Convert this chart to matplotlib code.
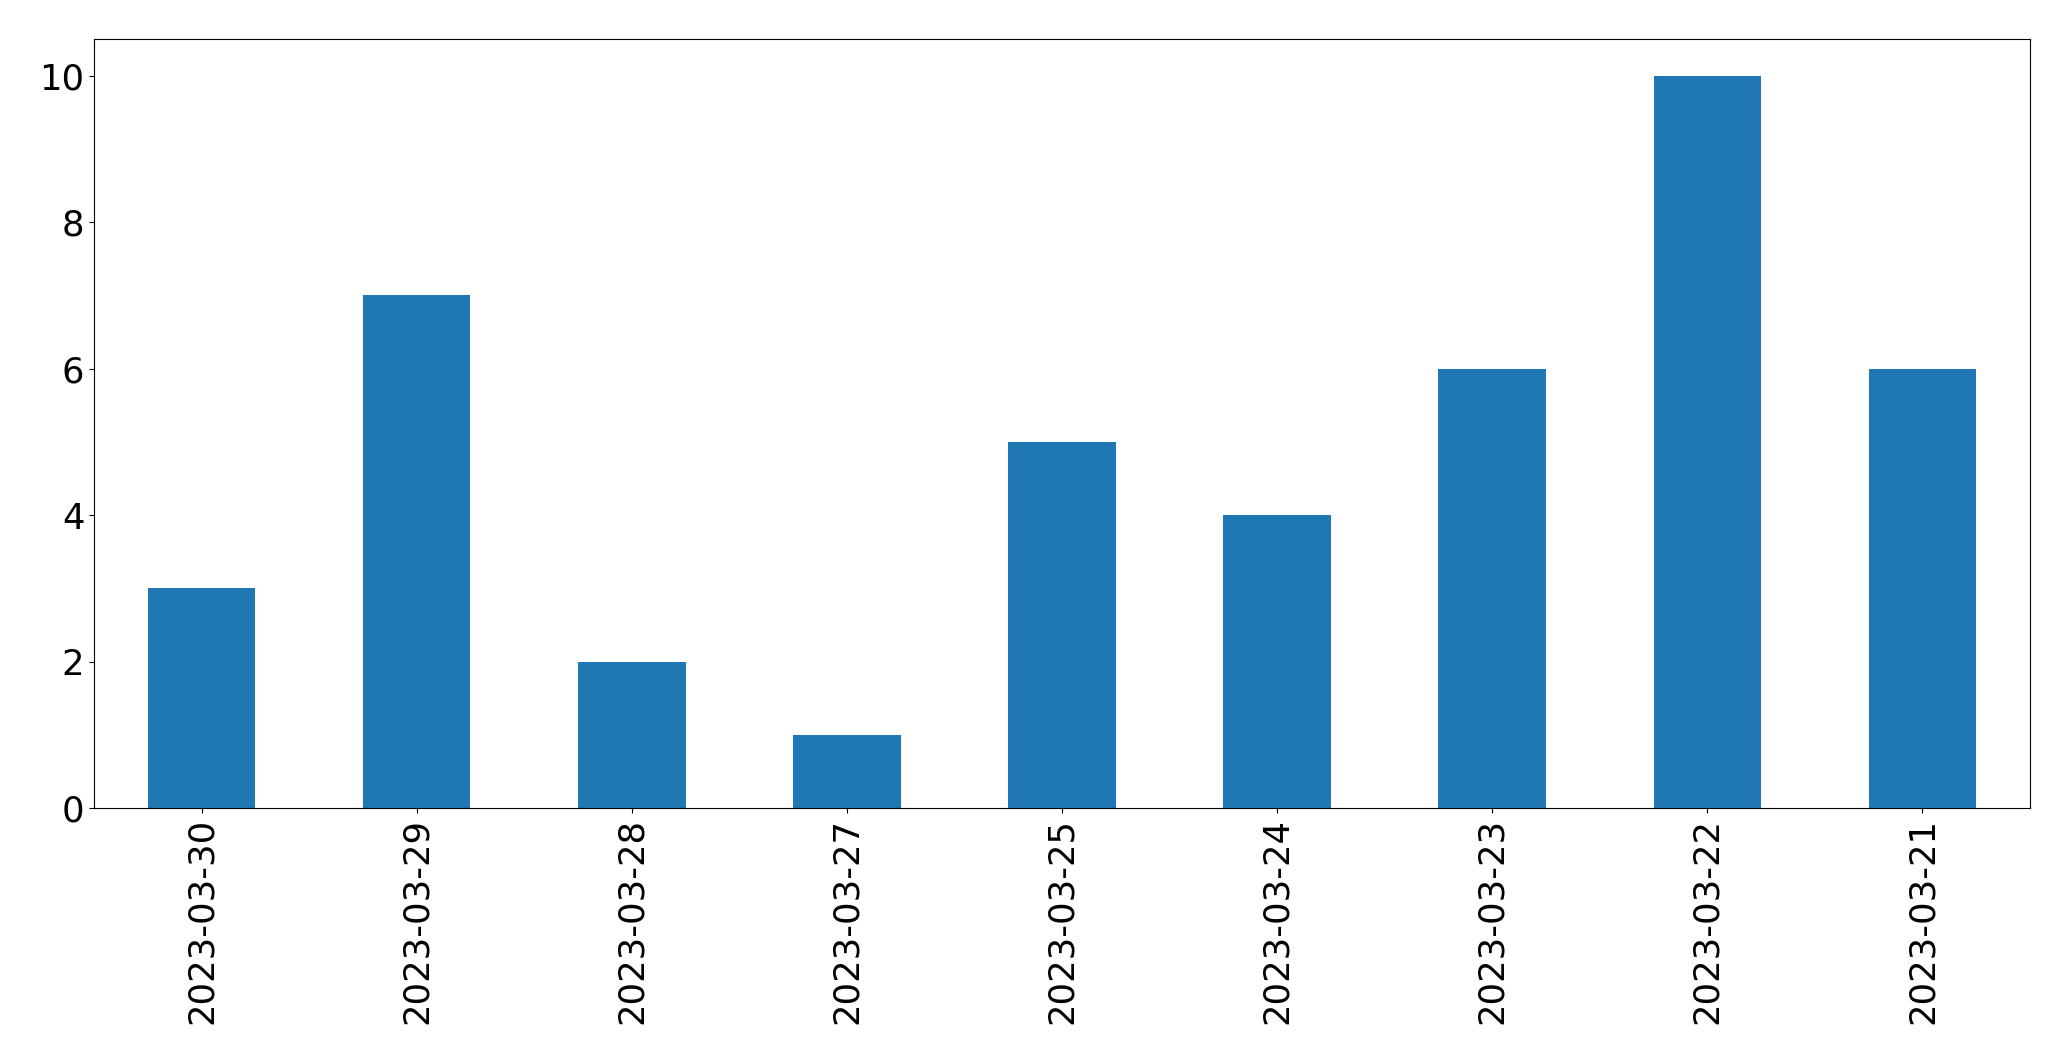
import pandas as pd
import matplotlib
matplotlib.use('Agg')
import matplotlib.pyplot as plt

dates = ['2023-03-30', '2023-03-29', '2023-03-28', '2023-03-27', '2023-03-25',
         '2023-03-24', '2023-03-23', '2023-03-22', '2023-03-21']
counts = [3, 7, 2, 1, 5, 4, 6, 10, 6]

plt.rcParams['font.size'] = 25.5

s = pd.Series(counts, index=dates)
fig = plt.figure(figsize=(20.71, 10.61), dpi=100)
ax = fig.add_axes([94 / 2071, 1 - 808 / 1061, (2030 - 94) / 2071, (808 - 39) / 1061])
s.plot(kind='bar', ax=ax, color='#1f77b4')
ax.set_yticks([0, 2, 4, 6, 8, 10])
fig.savefig('out.png', dpi=100)
